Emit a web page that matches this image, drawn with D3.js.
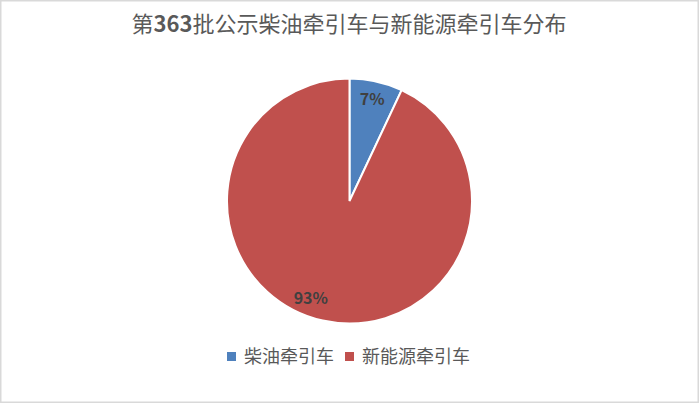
<!DOCTYPE html>
<html><head><meta charset="utf-8">
<script src="https://cdn.jsdelivr.net/npm/d3@7"></script>
<style>html,body{margin:0;padding:0;background:#fff;}svg{display:block;}</style>
</head><body>
<svg id="c" width="700" height="404"></svg>
<script>
const titleText = "第363批公示柴油牵引车与新能源牵引车分布";
const categories = ["柴油牵引车", "新能源牵引车"];
const values = [7, 93];
const colors = ["#4f81bd", "#c0504d"];

const svg = d3.select("#c");
const W = 700, H = 404;
const font = "'Noto Sans CJK SC', 'Noto Sans', sans-serif";

svg.append("rect").attr("x", 0.75).attr("y", 0.75).attr("width", W - 2.5).attr("height", H - 2.5)
  .attr("fill", "#fff").attr("stroke", "#d9d9d9").attr("stroke-width", 1.5);

const title = svg.append("text").attr("x", 349).attr("y", 32).attr("text-anchor", "middle")
  .attr("font-family", font).attr("font-size", 22).attr("fill", "#595959");
titleText.split(/(\d+)/).filter(s => s.length).forEach(s => {
  title.append("tspan").attr("font-weight", /^\d+$/.test(s) ? "bold" : "normal").text(s);
});

const cx = 349.5, cy = 201, R = 122.5;
const data = categories.map((c, i) => ({cat: c, val: values[i], color: colors[i]}));
const pie = d3.pie().value(d => d.val).sort(null);
const arcs = pie(data);
const arc = d3.arc().innerRadius(0).outerRadius(R);
const g = svg.append("g").attr("transform", `translate(${cx},${cy})`);
g.selectAll("path").data(arcs).join("path")
  .attr("d", arc).attr("fill", d => d.data.color)
  .attr("stroke", "#fff").attr("stroke-width", 2);

const total = d3.sum(values);
const labelArc = d3.arc().innerRadius(104).outerRadius(104);
g.selectAll("text.lbl").data(arcs).join("text").attr("class", "lbl")
  .attr("transform", (d, i) => {
    const [x, y] = labelArc.centroid(d);
    return i === 1 ? `translate(${x - 16},${y - 4})` : `translate(${x},${y})`;
  })
  .attr("text-anchor", "middle").attr("dy", "0.36em")
  .attr("font-family", font).attr("font-size", 16).attr("font-weight", "bold")
  .attr("fill", "#404040")
  .text(d => Math.round(d.data.val / total * 100) + "%");

// legend
const legY = 357;
const lg = svg.append("g").attr("font-family", font).attr("font-size", 18).attr("fill", "#595959");
const items = [{x: 227}, {x: 345}];
data.forEach((d, i) => {
  lg.append("rect").attr("x", items[i].x).attr("y", legY - 5).attr("width", 9).attr("height", 9).attr("fill", d.color);
  lg.append("text").attr("x", items[i].x + 17).attr("y", legY).attr("dy", "0.36em").text(d.cat);
});
</script>
</body></html>
